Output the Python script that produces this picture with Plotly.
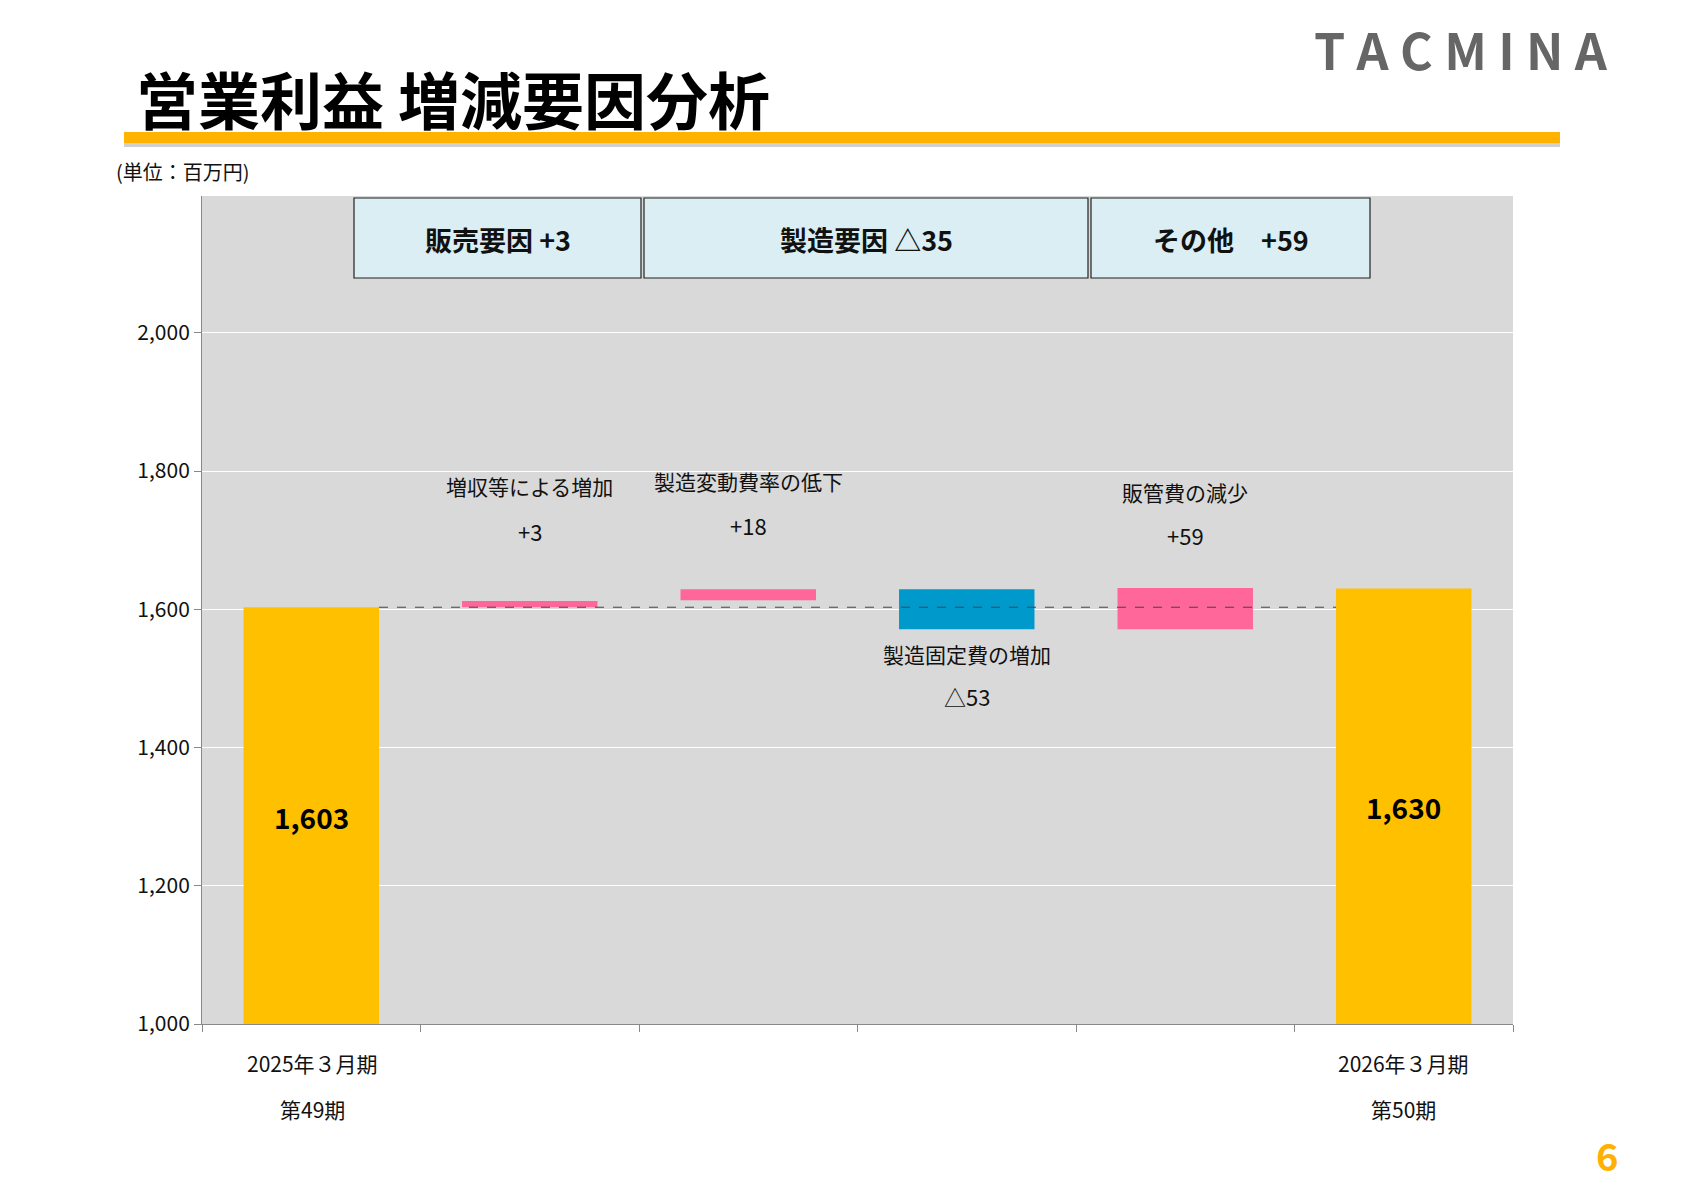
import plotly.graph_objects as go

cats = ["2025年3月期", "増収等による増加", "製造変動費率の低下", "製造固定費の増加", "販管費の減少", "2026年3月期"]
bases = [1000, 1603, 1613, 1571, 1571, 1000]
tops = [1603, 1612, 1629, 1629, 1631, 1630]
colors = ["#FFC000", "#FF6699", "#FF6699", "#0099CC", "#FF6699", "#FFC000"]
group_labels = ["販売要因 +3", "製造要因 △35", "その他\u3000+59"]
delta_labels = ["+3", "+18", "△53", "+59"]

F = "Noto Sans CJK JP"
W, H = 1684, 1190
L, R, T, B = 194, 1505, 188, 1016
DX, DY = -8, -9
def px(x): return (x + DX - L) / (R - L)
def py(y): return (B - (y + DY)) / (B - T)

fig = go.Figure(go.Bar(
    x=cats, y=[t - b for t, b in zip(tops, bases)], base=bases,
    marker=dict(color=colors, line_width=0), width=0.62, hoverinfo="skip"))

ann = []
shapes = []
shapes.append(dict(type="line", xref="x", yref="y", x0=0.31, x1=4.69, y0=tops[0], y1=tops[0],
                   line=dict(color="#444", width=1, dash="dash")))
ann.append(dict(x=cats[0], y=1300, text="<b>1,603</b>", showarrow=False, font=dict(family=F, size=28, color="black")))
ann.append(dict(x=cats[5], y=1314, text="<b>1,630</b>", showarrow=False, font=dict(family=F, size=28, color="black")))
lab = [(cats[1], 1778, 1714, delta_labels[0]), (cats[2], 1786, 1722, delta_labels[1]),
       (cats[3], 1536, 1474, delta_labels[2]), (cats[4], 1770, 1707, delta_labels[3])]
for c, y1, y2, d in lab:
    ann.append(dict(x=c, y=y1, text=c, showarrow=False, font=dict(family=F, size=21, color="#111")))
    ann.append(dict(x=c, y=y2, text=d, showarrow=False, font=dict(family=F, size=22, color="#111")))
boxes = [(354, 641), (644, 1088), (1091, 1370)]
for (x0, x1), t in zip(boxes, group_labels):
    shapes.append(dict(type="rect", xref="paper", yref="paper", x0=px(x0), x1=px(x1), y0=py(279), y1=py(199),
                       fillcolor="#DAEEF3", line=dict(color="#222", width=1.2)))
    ann.append(dict(xref="paper", yref="paper", x=px((x0 + x1) / 2), y=py(240), xanchor="center", yanchor="middle",
                    text="<b>" + t + "</b>", showarrow=False, font=dict(family=F, size=27, color="#111")))
for xp, l1, l2 in [(312, "2025年３月期", "第49期"), (1403, "2026年３月期", "第50期")]:
    ann.append(dict(xref="paper", yref="paper", x=px(xp), y=py(1064), xanchor="center", yanchor="middle",
                    text=l1, showarrow=False, font=dict(family=F, size=21, color="#111")))
    ann.append(dict(xref="paper", yref="paper", x=px(xp), y=py(1110), xanchor="center", yanchor="middle",
                    text=l2, showarrow=False, font=dict(family=F, size=21, color="#111")))
ann.append(dict(xref="paper", yref="paper", x=px(134), y=py(99), xanchor="left", yanchor="middle",
                text="<b>営業利益 増減要因分析</b>", showarrow=False, font=dict(family=F, size=62, color="black")))
ann.append(dict(xref="paper", yref="paper", x=px(114), y=py(172), xanchor="left", yanchor="middle",
                text="(単位：百万円)", showarrow=False, font=dict(family=F, size=20, color="#111")))
ann.append(dict(xref="paper", yref="paper", x=px(1610), y=py(49), xanchor="right", yanchor="middle",
                text="<b>T A C M I N A</b>", showarrow=False, font=dict(family=F, size=50, color="#666")))
ann.append(dict(xref="paper", yref="paper", x=px(1607), y=py(1155), xanchor="center", yanchor="middle",
                text="<b>6</b>", showarrow=False, font=dict(family=F, size=38, color="#FFB000")))
shapes.append(dict(type="rect", xref="paper", yref="paper", x0=px(124), x1=px(1560), y0=py(144), y1=py(148),
                   fillcolor="#D0D0D0", line_width=0))
shapes.append(dict(type="rect", xref="paper", yref="paper", x0=px(124), x1=px(1560), y0=py(133), y1=py(144),
                   fillcolor="#FFB300", line_width=0))

fig.update_layout(
    width=W, height=H, margin=dict(l=L, r=W - R, t=T, b=H - B),
    paper_bgcolor="white", plot_bgcolor="#D9D9D9", showlegend=False,
    annotations=ann, shapes=shapes, font=dict(family=F),
    xaxis=dict(type="category", tickson="boundaries", ticks="outside", ticklen=7, tickcolor="#888",
               showticklabels=False, showline=True, linecolor="#888", showgrid=False),
    yaxis=dict(range=[1000, 2198], tickvals=[1000, 1200, 1400, 1600, 1800, 2000], tickformat=",",
               ticks="outside", ticklen=7, tickcolor="#888", showline=True, linecolor="#888",
               gridcolor="white", gridwidth=1.2, tickfont=dict(family=F, size=21, color="#111"), zeroline=False),
)
fig.write_html("out.html")
